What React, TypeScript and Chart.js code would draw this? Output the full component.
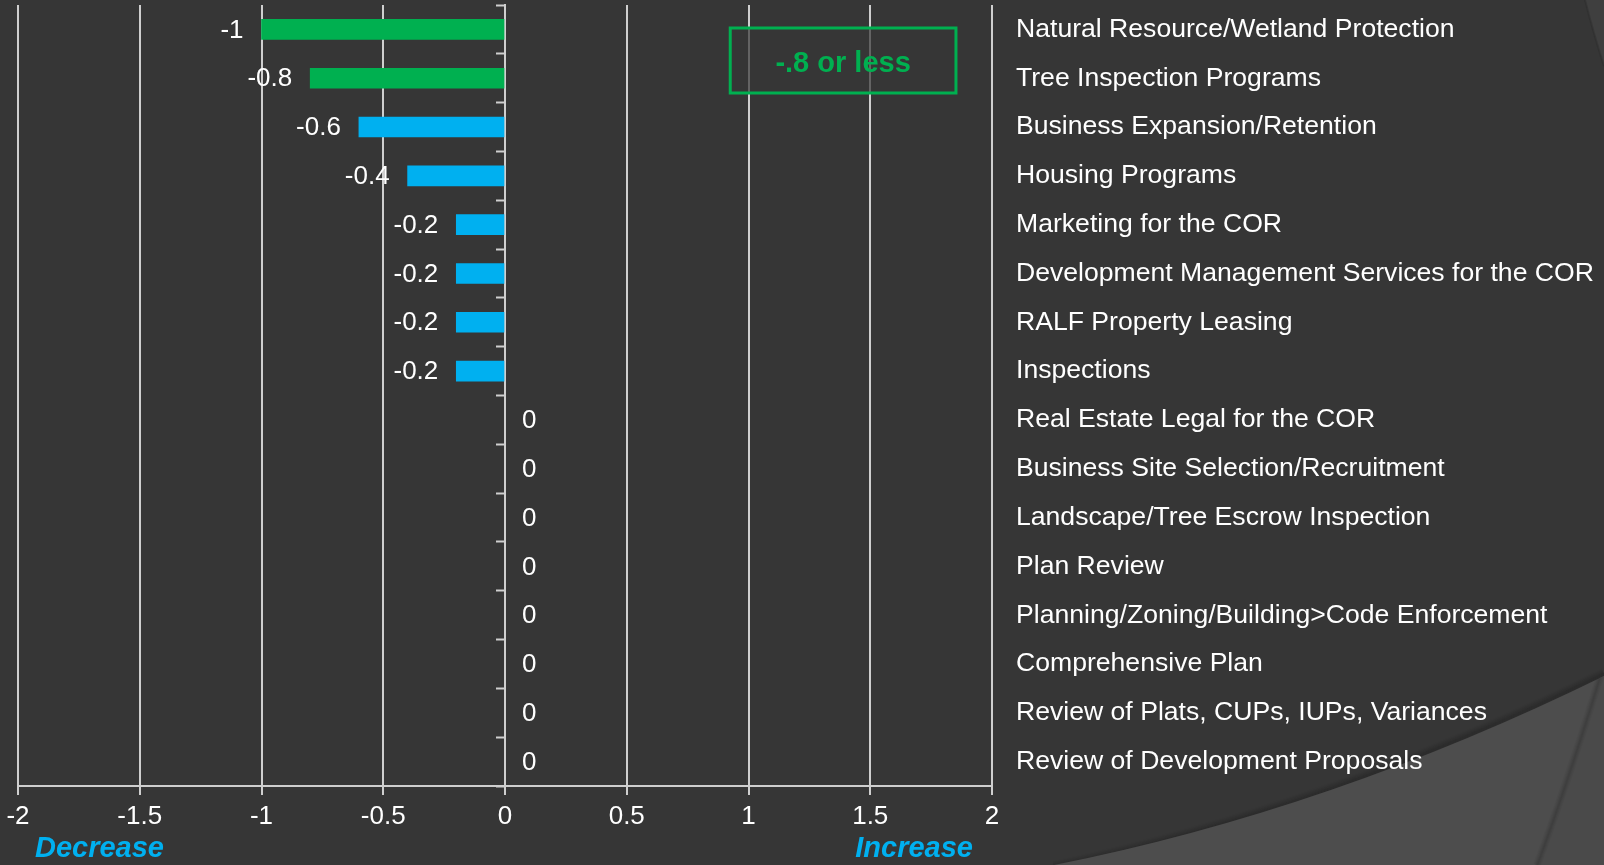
import React, { useEffect, useRef } from "react";
import { Chart, registerables } from "chart.js";

Chart.register(...registerables);

const categories: string[] = [
  "Natural Resource/Wetland Protection",
  "Tree Inspection Programs",
  "Business Expansion/Retention",
  "Housing Programs",
  "Marketing for the COR",
  "Development Management Services for the COR",
  "RALF Property Leasing",
  "Inspections",
  "Real Estate Legal for the COR",
  "Business Site Selection/Recruitment",
  "Landscape/Tree Escrow Inspection",
  "Plan Review",
  "Planning/Zoning/Building>Code Enforcement",
  "Comprehensive Plan",
  "Review of Plats, CUPs, IUPs, Variances",
  "Review of Development Proposals",
];

const changeValues: number[] = [
  -1, -0.8, -0.6, -0.4, -0.2, -0.2, -0.2, -0.2, 0, 0, 0, 0, 0, 0, 0, 0,
];

const xMin = -2;
const xMax = 2;
const xStep = 0.5;

const thresholdValue = -0.8;
const thresholdLabel = "-.8 or less";
const decreaseLabel = "Decrease";
const increaseLabel = "Increase";

const GREEN = "#00B050";
const BLUE = "#00B0F0";
const BG = "#363636";
const GRID = "#cfcfcf";
const FONT = "'Liberation Sans', Arial, sans-serif";

const fmt = (v: number) => {
  if (v === 0) return "0";
  return String(Math.round(v * 10) / 10);
};

const backgroundPlugin = {
  id: "bg",
  beforeDraw(chart: any) {
    const { ctx, width, height } = chart;
    ctx.save();
    ctx.fillStyle = BG;
    ctx.fillRect(0, 0, width, height);
    // soft shadow above the fold edge
    for (let i = 6; i >= 1; i--) {
      ctx.strokeStyle = `rgba(30,30,30,${0.04 * (7 - i) / 2})`;
      ctx.lineWidth = i * 2;
      ctx.beginPath();
      ctx.moveTo(1054, height + 2);
      ctx.quadraticCurveTo(1331, 808, width, 674);
      ctx.stroke();
    }
    // lighter folded region bottom right
    ctx.fillStyle = "#4d4d4d";
    ctx.beginPath();
    ctx.moveTo(1054, height);
    ctx.quadraticCurveTo(1331, 810, width, 676);
    ctx.lineTo(width, height);
    ctx.closePath();
    ctx.fill();
    // right strip beyond second fold
    ctx.save();
    ctx.beginPath();
    ctx.moveTo(1054, height);
    ctx.quadraticCurveTo(1331, 810, width, 676);
    ctx.lineTo(width, height);
    ctx.closePath();
    ctx.clip();
    ctx.fillStyle = "#4a4a4a";
    ctx.beginPath();
    ctx.moveTo(width + 4, 650);
    ctx.quadraticCurveTo(1572, 770, 1537, height);
    ctx.lineTo(width, height);
    ctx.closePath();
    ctx.fill();
    for (let i = 4; i >= 1; i--) {
      ctx.strokeStyle = `rgba(40,40,40,${0.03 * (5 - i)})`;
      ctx.lineWidth = i * 2;
      ctx.beginPath();
      ctx.moveTo(width + 4, 650);
      ctx.quadraticCurveTo(1572, 770, 1537, height);
      ctx.stroke();
    }
    ctx.restore();
    // top right sliver
    ctx.fillStyle = "#3f3f3f";
    ctx.beginPath();
    ctx.moveTo(1585, 0);
    ctx.quadraticCurveTo(1594, 35, width, 66);
    ctx.lineTo(width, 0);
    ctx.closePath();
    ctx.fill();
    ctx.strokeStyle = "rgba(40,40,40,0.35)";
    ctx.lineWidth = 2;
    ctx.beginPath();
    ctx.moveTo(1585, 0);
    ctx.quadraticCurveTo(1594, 35, width, 66);
    ctx.stroke();
    ctx.restore();
  },
};

const labelsPlugin = {
  id: "valueLabels",
  afterDatasetsDraw(chart: any) {
    const { ctx } = chart;
    const meta = chart.getDatasetMeta(0);
    ctx.save();
    ctx.font = `26px ${FONT}`;
    ctx.fillStyle = "#ffffff";
    ctx.textBaseline = "middle";
    meta.data.forEach((bar: any, i: number) => {
      const v = changeValues[i];
      if (v < 0) {
        ctx.textAlign = "right";
        ctx.fillText(fmt(v), bar.x - 18, bar.y + 1);
      } else {
        ctx.textAlign = "left";
        ctx.fillText(fmt(v), bar.x + 17, bar.y + 1);
      }
    });
    ctx.restore();
  },
};

const annotationPlugin = {
  id: "notes",
  afterDraw(chart: any) {
    const { ctx, chartArea } = chart;
    const xs = chart.scales.x;
    ctx.save();
    // threshold box
    const bx1 = xs.getPixelForValue(0.925);
    const bx2 = xs.getPixelForValue(1.852);
    const by1 = chartArea.top + 23;
    const by2 = chartArea.top + 88;
    ctx.fillStyle = "rgba(54,54,54,0.7)";
    ctx.fillRect(bx1, by1, bx2 - bx1, by2 - by1);
    ctx.strokeStyle = GREEN;
    ctx.lineWidth = 3;
    ctx.strokeRect(bx1, by1, bx2 - bx1, by2 - by1);
    ctx.fillStyle = GREEN;
    ctx.font = `bold 29px ${FONT}`;
    ctx.textAlign = "center";
    ctx.textBaseline = "middle";
    ctx.fillText(thresholdLabel, (bx1 + bx2) / 2, (by1 + by2) / 2 + 3);
    // decrease / increase notes
    ctx.fillStyle = BLUE;
    ctx.font = `italic bold 29px ${FONT}`;
    ctx.textBaseline = "middle";
    ctx.textAlign = "left";
    ctx.fillText(decreaseLabel, chartArea.left + 17, 849);
    ctx.textAlign = "right";
    ctx.fillText(increaseLabel, chartArea.right - 19, 849);
    ctx.restore();
  },
};

export default function App() {
  const canvasRef = useRef<HTMLCanvasElement | null>(null);

  useEffect(() => {
    document.body.style.margin = "0";
    document.body.style.background = BG;
    const canvas = canvasRef.current;
    if (!canvas) return;
    const chart = new Chart(canvas, {
      type: "bar",
      data: {
        labels: categories,
        datasets: [
          {
            data: changeValues,
            backgroundColor: changeValues.map((v) =>
              v === 0 ? "rgba(0,0,0,0)" : v <= thresholdValue ? GREEN : BLUE
            ),
            barThickness: 20,
            borderWidth: 0,
          },
        ],
      },
      options: {
        indexAxis: "y",
        responsive: false,
        animation: false,
        devicePixelRatio: 1,
        layout: { padding: { left: 18, top: 5, right: 0, bottom: 0 } },
        plugins: {
          legend: { display: false },
          tooltip: { enabled: false },
          title: { display: false },
        },
        scales: {
          x: {
            type: "linear",
            min: xMin,
            max: xMax,
            position: "bottom",
            ticks: {
              stepSize: xStep,
              color: "#ffffff",
              font: { family: FONT, size: 26 },
              padding: 6,
              maxRotation: 0,
              callback: (v: any) => fmt(Number(v)),
            },
            grid: {
              color: GRID,
              lineWidth: 2,
              drawTicks: true,
              tickLength: 9,
              tickColor: GRID,
              tickWidth: 2,
            },
            border: { display: true, color: GRID, width: 2 },
            afterFit: (scale: any) => {
              scale.height = 79;
            },
          },
          y: {
            type: "category",
            position: "right",
            ticks: {
              color: "#ffffff",
              font: { family: FONT, size: 26.6 },
              padding: 24,
              autoSkip: false,
            },
            grid: { display: false, drawTicks: false },
            border: { display: false },
            afterFit: (scale: any) => {
              scale.width = 612;
              scale.paddingTop = 0;
              scale.paddingBottom = 0;
            },
          },
          yz: {
            type: "category",
            position: { x: 0 },
            offset: true,
            ticks: { display: false },
            grid: {
              offset: true,
              drawOnChartArea: false,
              drawTicks: true,
              tickLength: 8,
              color: GRID,
              tickColor: GRID,
              tickWidth: 2,
            },
            border: { display: true, color: GRID, width: 2 },
          },
        } as any,
      },
      plugins: [backgroundPlugin, labelsPlugin, annotationPlugin],
    });
    return () => chart.destroy();
  }, []);

  return (
    <div style={{ position: "absolute", left: 0, top: 0, width: 1604, height: 865 }}>
      <canvas ref={canvasRef} width={1604} height={865} style={{ width: 1604, height: 865, display: "block" }} />
    </div>
  );
}
